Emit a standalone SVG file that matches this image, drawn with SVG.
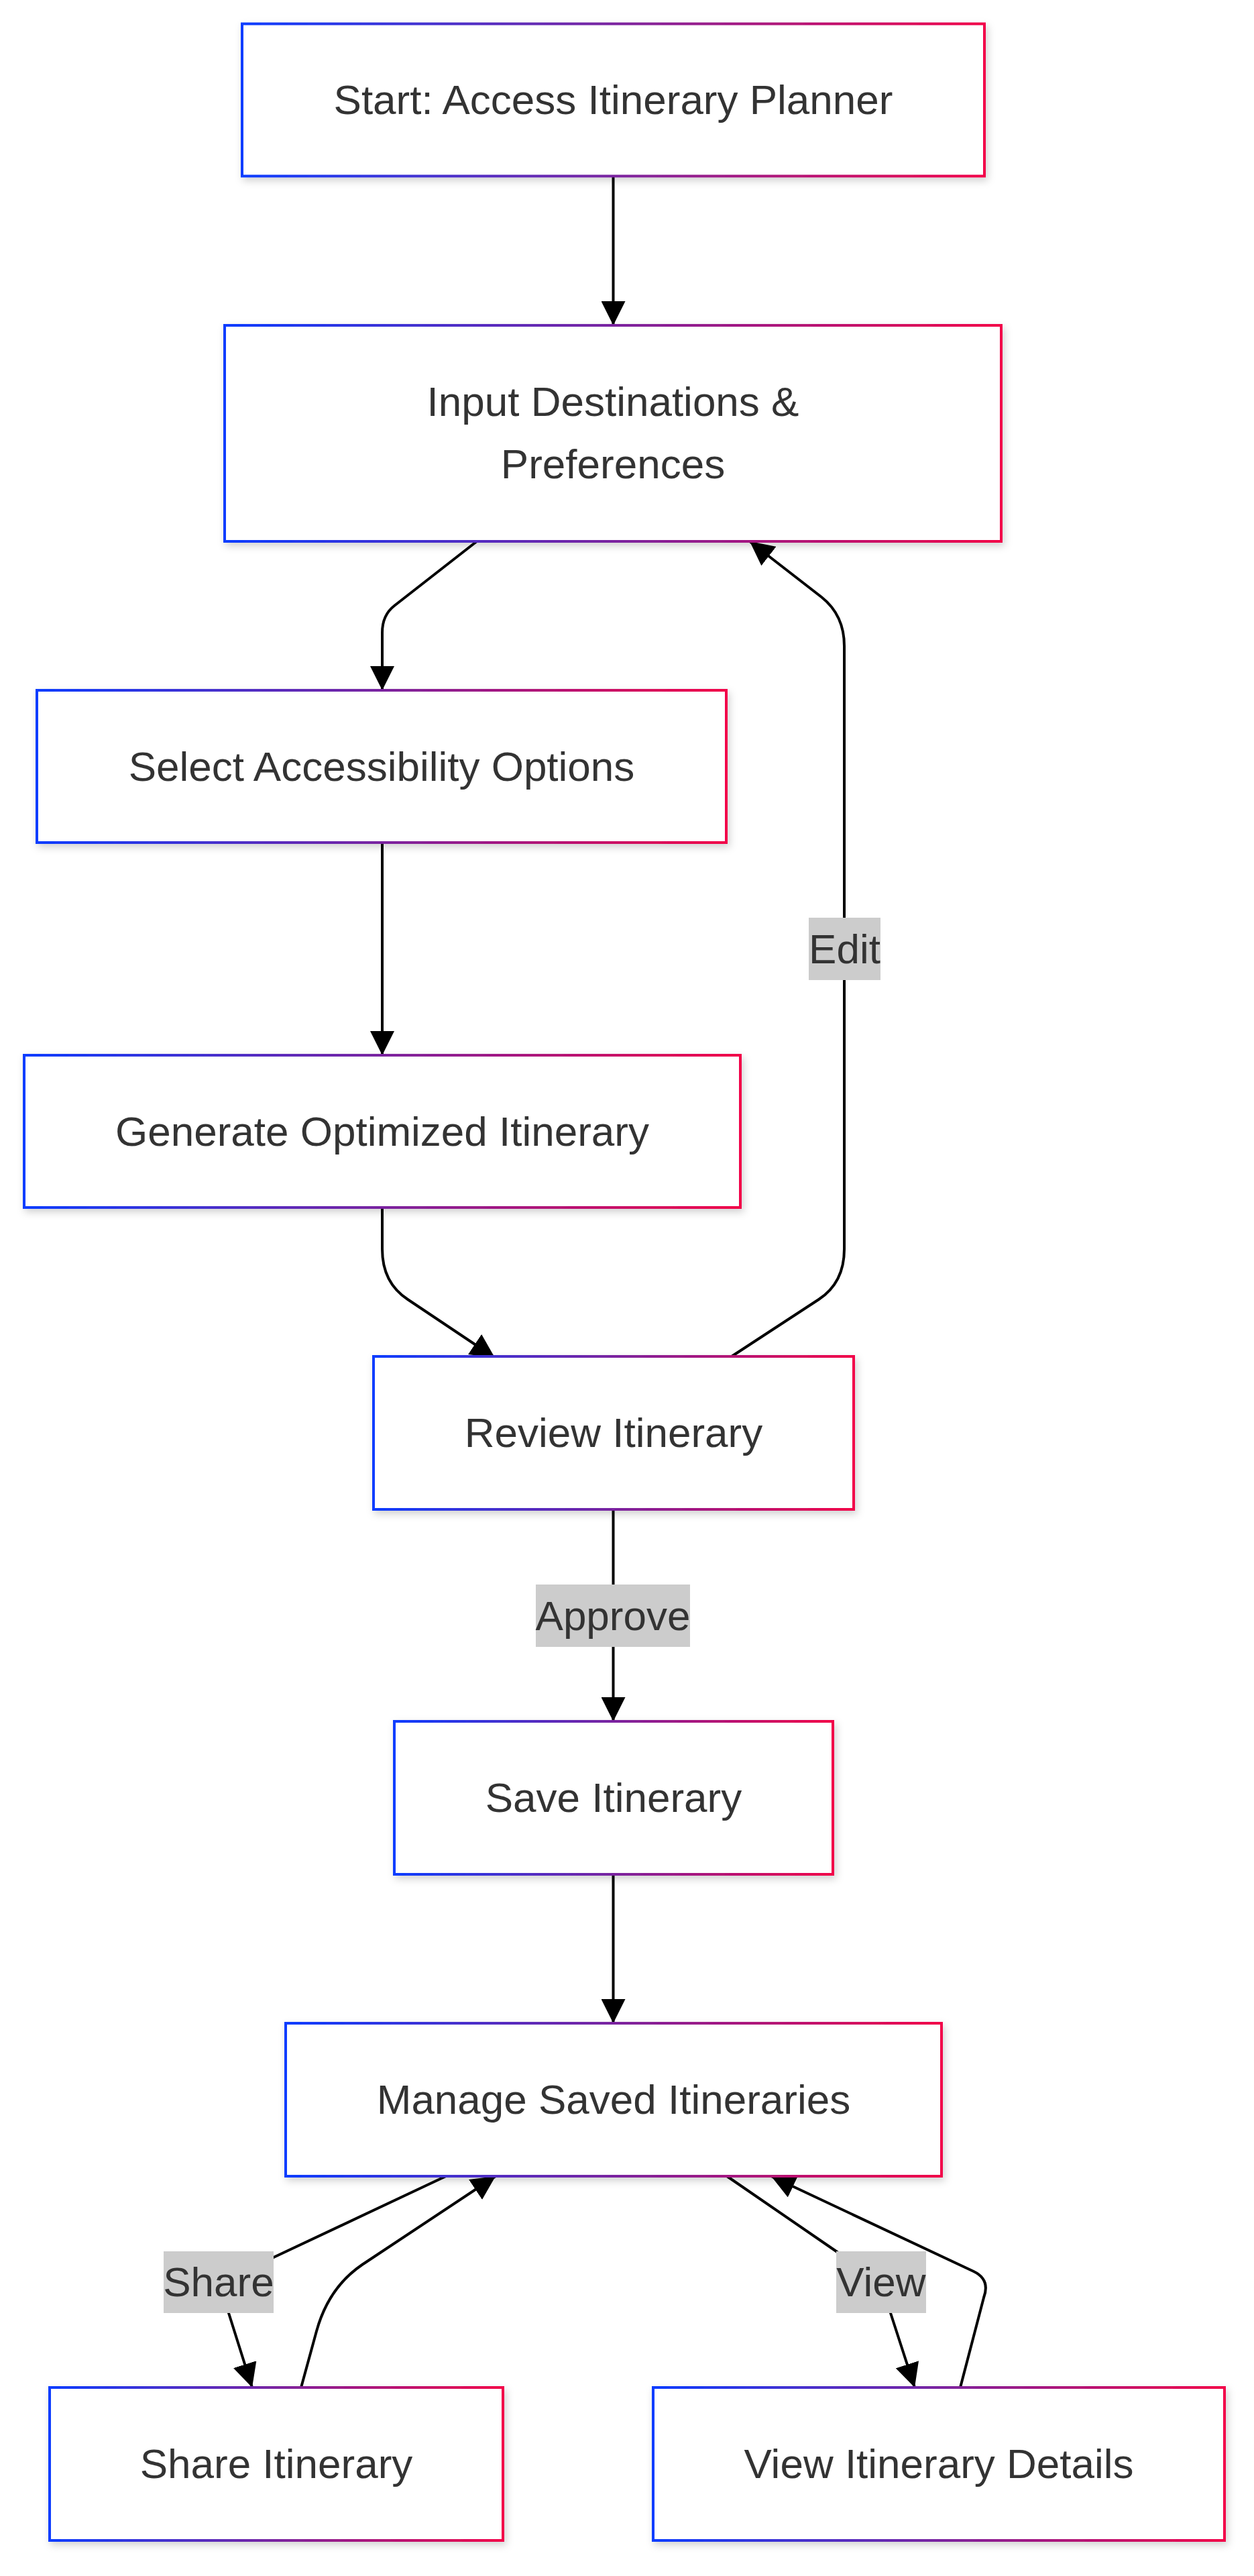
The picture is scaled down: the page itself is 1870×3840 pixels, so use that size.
<svg xmlns="http://www.w3.org/2000/svg" width="1870" height="3840" viewBox="0 0 1870 3840">
  <style>
    .node rect { fill: #ffffff; stroke: url(#nodeStroke); stroke-width: 4; filter: url(#shadow); }
    .node text, .elabel text { font-family: "Liberation Sans", Arial, Helvetica, sans-serif; font-size: 62px; fill: #333333; text-anchor: middle; }
    .edge { fill: none; stroke: #000000; stroke-width: 4; marker-end: url(#arrow); }
    .elabel rect { fill: #cccccc; }
  </style>
  <defs>
    <linearGradient id="nodeStroke" x1="0" y1="0" x2="1" y2="0">
      <stop offset="0" stop-color="#0c3cff"/>
      <stop offset="0.5" stop-color="#7a24a0"/>
      <stop offset="1" stop-color="#f20048"/>
    </linearGradient>
    <filter id="shadow" x="-10%" y="-20%" width="120%" height="150%">
      <feDropShadow dx="3" dy="5" stdDeviation="6" flood-color="#000000" flood-opacity="0.18"/>
    </filter>
    <marker id="arrow" viewBox="0 0 10 10" refX="10" refY="5" markerUnits="userSpaceOnUse" markerWidth="36" markerHeight="36" orient="auto">
      <path d="M0,0 L10,5 L0,10 z" fill="#000000"/>
    </marker>
  </defs>
  <rect x="0" y="0" width="1870" height="3840" fill="#ffffff"/>

  <g id="connectors">
    <path class="edge" d="M914.5,263 L914.5,485"/>
    <path class="edge" d="M711,807 L588,903 Q570,917 570,943 L570,1029"/>
    <path class="edge" d="M570,1256 L570,1573"/>
    <path class="edge" d="M570,1800 L570,1862 Q570,1912 608,1937 L738,2024"/>
    <path class="edge" d="M1091,2022 L1221,1937 Q1259,1912 1259,1862 L1259,963 Q1259,917 1225,890 L1118,807"/>
    <path class="edge" d="M914.5,2250 L914.5,2566"/>
    <path class="edge" d="M914.5,2794 L914.5,3016"/>
    <path class="edge" d="M665,3244 L408,3365 L326,3402 L341,3448 L376,3559"/>
    <path class="edge" d="M449,3559 L472,3475 Q490,3410 540,3376 L739,3244"/>
    <path class="edge" d="M1084,3244 L1247,3356 L1313,3402 L1328,3448 L1364,3559"/>
    <path class="edge" d="M1432,3559 L1467,3425 Q1477,3398 1452,3386 L1150,3244"/>
  </g>

  <g id="node-start" class="node">
    <rect x="361" y="35.5" width="1107" height="227"/>
    <text x="914.5" y="170">Start: Access Itinerary Planner</text>
  </g>
  <g id="node-input" class="node">
    <rect x="335" y="485" width="1158" height="322"/>
    <text x="914" y="620">Input Destinations &amp;</text>
    <text x="914" y="713">Preferences</text>
  </g>
  <g id="node-select" class="node">
    <rect x="55" y="1029" width="1028" height="227"/>
    <text x="569" y="1164">Select Accessibility Options</text>
  </g>
  <g id="node-generate" class="node">
    <rect x="36" y="1573" width="1068" height="227"/>
    <text x="570" y="1708">Generate Optimized Itinerary</text>
  </g>
  <g id="node-review" class="node">
    <rect x="557" y="2022" width="716" height="228"/>
    <text x="915" y="2157">Review Itinerary</text>
  </g>
  <g id="node-save" class="node">
    <rect x="588" y="2566" width="654" height="228"/>
    <text x="915" y="2701">Save Itinerary</text>
  </g>
  <g id="node-manage" class="node">
    <rect x="426" y="3016" width="978" height="228"/>
    <text x="915" y="3151">Manage Saved Itineraries</text>
  </g>
  <g id="node-share" class="node">
    <rect x="74" y="3559" width="676" height="228"/>
    <text x="412" y="3694">Share Itinerary</text>
  </g>
  <g id="node-view" class="node">
    <rect x="974" y="3559" width="852" height="228"/>
    <text x="1400" y="3694">View Itinerary Details</text>
  </g>

  <g id="edge-labels">
    <g class="elabel">
      <rect x="1206" y="1368" width="107" height="93"/>
      <text x="1259.5" y="1436">Edit</text>
    </g>
    <g class="elabel">
      <rect x="799" y="2362" width="230" height="93"/>
      <text x="914" y="2430">Approve</text>
    </g>
    <g class="elabel">
      <rect x="244" y="3356" width="164" height="92"/>
      <text x="326" y="3423">Share</text>
    </g>
    <g class="elabel">
      <rect x="1247" y="3356" width="134" height="92"/>
      <text x="1314" y="3423">View</text>
    </g>
  </g>
</svg>
